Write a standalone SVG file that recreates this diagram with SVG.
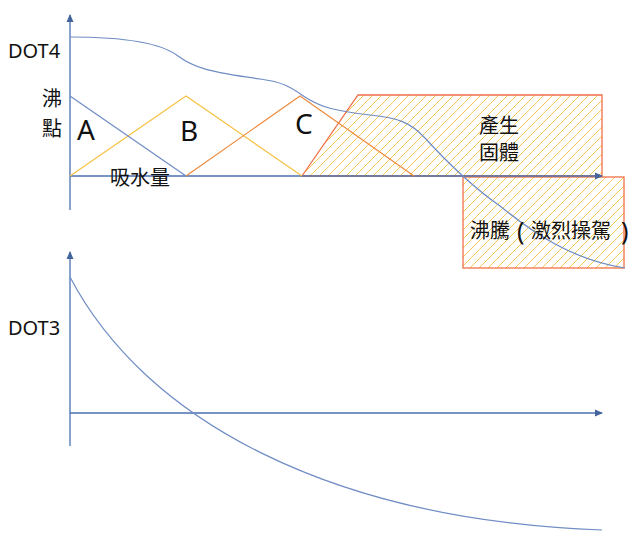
<svg xmlns="http://www.w3.org/2000/svg" width="640" height="542" viewBox="0 0 640 542">
<style>
.axis{stroke:#4A70B0;stroke-width:1.3;fill:none}
.curve{stroke:#6F8CC4;stroke-width:1.2;fill:none}
.yel{stroke:#F5C242;stroke-width:1.2;fill:none}
.org{stroke:#EE8A3C;stroke-width:1.2;fill:none}
.zone{stroke:#F07048;stroke-width:1.3;fill:url(#hatch)}
.t{font-family:"Noto Sans","Noto Sans CJK TC",sans-serif;fill:#111}
.cjk{font-family:"Noto Sans CJK TC",sans-serif;fill:#111;font-size:20px}
.par{font-family:"Noto Sans",sans-serif;font-size:25px}
</style>
<defs>
<pattern id="hatch" patternUnits="userSpaceOnUse" width="9" height="9">
<path d="M-1,1 L1,-1 M0,9 L9,0 M8,10 L10,8" stroke="#F5C242" stroke-width="0.9"/>
</pattern>
<marker id="arr" markerWidth="8" markerHeight="8" refX="7" refY="4" orient="auto" markerUnits="userSpaceOnUse">
<path d="M0,0.5 L8,4 L0,7.5 Z" fill="#44649C"/>
</marker>
</defs>
<g id="zones">
<path id="solid" class="zone" d="M302,176 L358,95 L602,95 L602,176 Z"/>
<rect id="boil" class="zone" x="463" y="177" width="161" height="91"/>
</g>
<g id="connectors">
<line class="axis" x1="70" y1="210" x2="70" y2="15" marker-end="url(#arr)"/>
<line class="axis" x1="70" y1="176" x2="602" y2="176" marker-end="url(#arr)"/>
<polyline class="yel" points="70,176 186,96 302,176"/>
<polyline class="org" points="186,176 300,96 414,176"/>
<line class="curve" x1="70" y1="96" x2="186" y2="176"/>
<path class="curve" d="M70,37 C120,37 160,42 178,56 C194,68 210,72 260,79 C284,82 292,88 305,97 C320,107 335,111 370,115 C398,118 410,122 425,138 C445,160 470,185 500,206 C532,232 572,260 625,268"/>
<line class="axis" x1="70" y1="446" x2="70" y2="252" marker-end="url(#arr)"/>
<line class="axis" x1="70" y1="413" x2="602" y2="413" marker-end="url(#arr)"/>
<path class="curve" d="M70,277 C145,420 330,520 602,530"/>
</g>
<g id="labels">
<text class="t" x="8" y="58" font-size="20">DOT4</text>
<text class="cjk" x="42" y="106">沸</text>
<text class="cjk" x="42" y="136">點</text>
<text class="t" x="77" y="140" font-size="28">A</text>
<text class="t" x="180" y="141" font-size="28">B</text>
<text class="t" x="295" y="134" font-size="28">C</text>
<text class="cjk" x="110" y="185">吸水量</text>
<text class="cjk" x="479" y="133">產生</text>
<text class="cjk" x="479" y="160">固體</text>
<text class="cjk" x="470" y="238">沸騰<tspan class="par" x="517" y="240">(</tspan><tspan x="531" y="238">激烈操駕</tspan><tspan class="par" x="621" y="240">)</tspan></text>
<text class="t" x="8" y="335" font-size="20">DOT3</text>
</g>
</svg>
